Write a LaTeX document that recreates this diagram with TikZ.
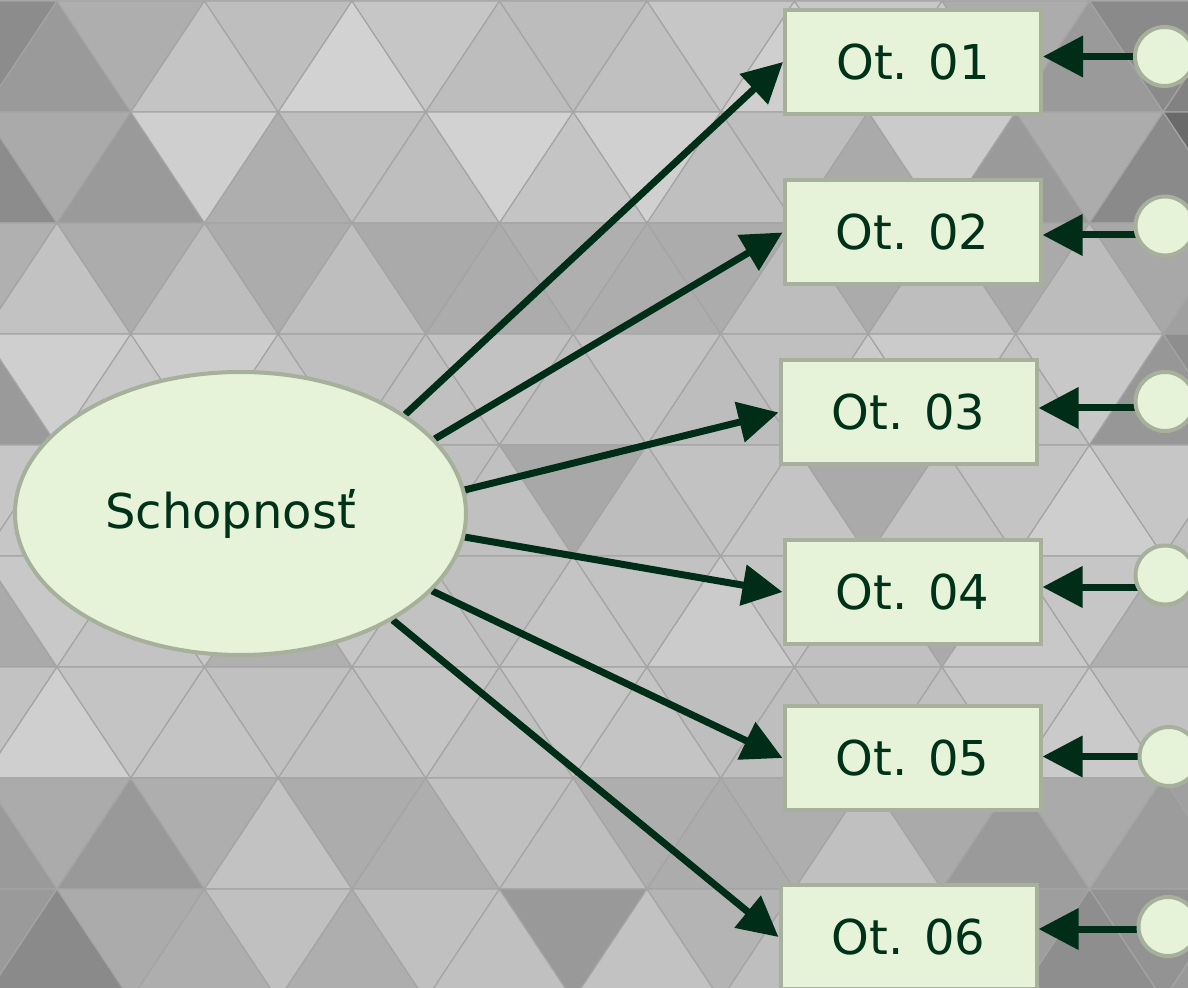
\documentclass[tikz,border=0pt]{standalone}
\usepackage{fontspec}
\setmainfont{DejaVu Sans}
\usetikzlibrary{arrows.meta,shapes.geometric,calc}
\pgfdeclarelayer{bg}
\pgfdeclarelayer{edges}
\pgfsetlayers{bg,edges,main}
\definecolor{nodefill}{RGB}{230,243,216}
\definecolor{nodeborder}{RGB}{166,176,154}
\definecolor{ink}{RGB}{0,50,26}
\definecolor{arrowink}{RGB}{0,45,23}
\definecolor{gridline}{RGB}{164,164,164}
\definecolor{basegray}{RGB}{180,180,180}
\begin{document}
\begin{tikzpicture}[x=0.5pt,y=-0.5pt,
  tri/.style={draw=gridline,line width=0.6pt,line join=round},
  latent/.style={ellipse,draw=nodeborder,fill=nodefill,line width=2pt,
    minimum width=225.5pt,minimum height=141.5pt,inner sep=0pt,
    text=ink,font=\fontsize{24}{28}\selectfont},
  itembox/.style={rectangle,draw=nodeborder,fill=nodefill,line width=2pt,
    minimum width=128pt,minimum height=52pt,inner sep=0pt,
    text=ink,font=\fontsize{24}{28}\selectfont},
  errc/.style={circle,draw=nodeborder,fill=nodefill,line width=2pt,
    minimum size=29.5pt,inner sep=0pt},
  arr/.style={draw=arrowink,line width=3.5pt,
    -{Triangle[length=20pt,width=20pt]}}]
\useasboundingbox (0,0) rectangle (1188,988);

% ---------- background triangle mesh ----------
\begin{pgfonlayer}{bg}
\begin{scope}
\clip (0,0) rectangle (1188,988);
\fill[basegray] (0,0) rectangle (1188,988);
\foreach \r/\cols in {
 0/{140,154,174,196,190,210,198,189,188,192,198,207,200,200,172,154,138,130},
 1/{140,170,154,207,174,191,190,210,196,208,191,190,170,203,154,172,138,106},
 2/{176,194,172,189,172,190,170,172,175,173,172,189,171,190,170,188,168,160},
 3/{154,207,200,205,196,191,192,194,190,194,189,192,203,203,194,200,151,142},
 4/{198,198,195,195,195,195,191,192,168,189,194,196,170,194,196,206,198,192},
 5/{170,200,195,200,176,198,194,191,196,194,203,196,192,170,200,198,176,176},
 6/{194,207,196,196,192,192,196,192,198,196,190,190,190,192,198,202,194,192},
 7/{154,171,153,174,194,172,174,192,190,174,172,174,192,170,154,170,156,160},
 8/{154,138,171,174,192,174,192,192,153,194,180,190,190,190,158,142,147,153}}{
  \foreach \g [count=\i from -1] in \cols {
    \pgfmathsetmacro{\xc}{57+73.75*\i}
    \pgfmathsetmacro{\yt}{1+111*\r}
    \pgfmathsetmacro{\yb}{\yt+111}
    \pgfmathtruncatemacro{\up}{mod(\i+\r+2,2)==0 ? 1 : 0}
    \definecolor{tc}{RGB}{\g,\g,\g}
    \ifnum\up=1
      \filldraw[tri,fill=tc] (\xc,\yt) -- (\xc-73.75,\yb) -- (\xc+73.75,\yb) -- cycle;
    \else
      \filldraw[tri,fill=tc] (\xc-73.75,\yt) -- (\xc+73.75,\yt) -- (\xc,\yb) -- cycle;
    \fi
  }
}
\end{scope}
\end{pgfonlayer}

% ---------- nodes ----------
\node[latent] (ell) at (240.5,513.5) {\hspace*{-10pt}Schopnosť};

\node[itembox] (b1) at (913,62)    {Ot. 01};
\node[itembox] (b2) at (912.5,232.5) {Ot. 02};
\node[itembox] (b3) at (908.5,412.5) {Ot. 03};
\node[itembox] (b4) at (912.5,592) {Ot. 04};
\node[itembox] (b5) at (912.5,758) {Ot. 05};
\node[itembox] (b6) at (908.5,937) {Ot. 06};

\node[errc] (c1) at (1164.5,56.5) {};
\node[errc] (c2) at (1165,226) {};
\node[errc] (c3) at (1165,401.5) {};
\node[errc] (c4) at (1165,575) {};
\node[errc] (c5) at (1169,756.5) {};
\node[errc] (c6) at (1168,926.5) {};

\coordinate (s1) at ([yshift=0pt]c1.center);
\coordinate (s2) at ([yshift=-4.5pt]c2.center);
\coordinate (s3) at ([yshift=-3.25pt]c3.center);
\coordinate (s4) at ([yshift=-6pt]c4.center);
\coordinate (s5) at ([yshift=0pt]c5.center);
\coordinate (s6) at ([yshift=-1.25pt]c6.center);

% ---------- connectors ----------
\begin{pgfonlayer}{edges}
\draw[arr] (ell.31) -- (b1.west);
\draw[arr] (ell.21) -- (b2.west);
\draw[arr] (ell.6) -- (b3.west);
\draw[arr] (ell.-6) -- (b4.west);
\draw[arr] (ell.-22) -- (b5.west);
\draw[arr] (ell.-35) -- (b6.west);
\foreach \k in {1,...,6}{
  \draw[arr] (s\k) -- (s\k -| b\k.east);
}
\end{pgfonlayer}
\end{tikzpicture}
\end{document}
